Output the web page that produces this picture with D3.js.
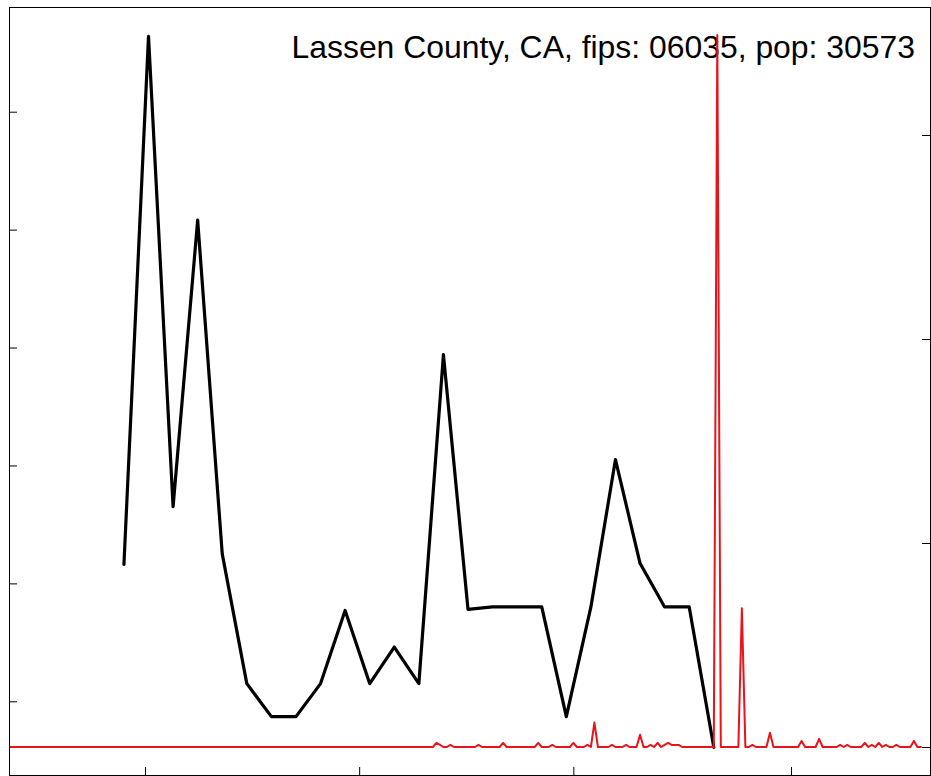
<!DOCTYPE html>
<html>
<head>
<meta charset="utf-8">
<script src="https://cdn.jsdelivr.net/npm/d3@7"></script>
<style>
  html, body { margin: 0; padding: 0; background: #ffffff; }
  svg { display: block; }
</style>
</head>
<body>
<svg id="chart" width="931" height="776"></svg>
<script>
// ---------------- DATA ----------------
const titleText = "Lassen County, CA, fips: 06035, pop: 30573";

// weekly series (black line)
const weekDates = [
  "2020-02-24","2020-03-02","2020-03-09","2020-03-16","2020-03-23",
  "2020-03-30","2020-04-06","2020-04-13","2020-04-20","2020-04-27",
  "2020-05-04","2020-05-11","2020-05-18","2020-05-25","2020-06-01",
  "2020-06-08","2020-06-15","2020-06-22","2020-06-29","2020-07-06",
  "2020-07-13","2020-07-20","2020-07-27","2020-08-03","2020-08-10"
];
const weekValues = [
  21.6, 66.4, 26.5, 50.8, 22.5,
  11.5, 8.7, 8.7, 11.5, 17.7,
  11.5, 14.6, 11.5, 39.4, 17.8,
  18.0, 18.0, 18.0, 8.7, 18.0,
  30.5, 21.7, 18.0, 18.0, 6.1
];

// daily series (red line), starting 2020-01-22
const dailyStart = "2020-01-22";
const dailyValues = [
  0,0,0,0,0,0,0,0,0,0,
  0,0,0,0,0,0,0,0,0,0,
  0,0,0,0,0,0,0,0,0,0,
  0,0,0,0,0,0,0,0,0,0,
  0,0,0,0,0,0,0,0,0,0,
  0,0,0,0,0,0,0,0,0,0,
  0,0,0,0,0,0,0,0,0,0,
  0,0,0,0,0,0,0,0,0,0,
  0,0,0,0,0,0,0,0,0,0,
  0,0,0,0,0,0,0,0,0,0,
  0,0,0,0,0,0,0,0,0,0,
  0,0,0,0,0,0,0,0,0,0,
  0,0,2,1,0,0,1,0,0,0,
  0,0,0,0,1,0,0,0,0,0,
  0,2,0,0,0,0,0,0,0,0,
  0,2,0,0,0,1,0,0,0,0,
  0,2,0,0,0,1,0,12,0,0,
  0,0,1,0,0,0,1,0,0,0,
  6,0,0,1,0,2,0,1,2,1,
  1,1,0,0,0,0,0,0,0,0,
  0,0,349,0,0,0,0,0,0,68,
  0,0,1,0,0,0,0,7,0,0,
  0,0,0,0,0,0,3,0,0,0,
  0,4,0,0,0,0,0,1,0,1,
  0,0,0,0,2,0,1,0,2,0,
  1,0,0,1,0,0,0,0,3,0,
  0
];

// axis ticks (labels are not drawn in the reference)
const xTickDates = ["2020-03-01","2020-05-01","2020-07-01","2020-09-01"];
const leftTicks = [10, 20, 30, 40, 50, 60];
const rightTicks = [0, 100, 200, 300];

// ---------------- CHART ----------------
const svg = d3.select("#chart");
const box = { x0: 9.5, y0: 7.5, x1: 930.5, y1: 775.5 };

const parse = d3.utcParse("%Y-%m-%d");
const startDate = parse(dailyStart);
const dailyData = dailyValues.map((v, i) => ({ date: d3.utcDay.offset(startDate, i), value: v }));
const weekData = weekDates.map((d, i) => ({ date: parse(d), value: weekValues[i] }));

const lastDaily = dailyData[dailyData.length - 1].date;
const x = d3.scaleUtc().domain([startDate, lastDaily]).range([8.07, 8.07 + 260 * 3.511]);
const yLeft = d3.scaleLinear().domain([10, 60]).range([701.3, 111.7]);
const yRight = d3.scaleLinear().domain([0, 300]).range([747, 135]);

svg.append("defs").append("clipPath").attr("id", "plotclip")
  .append("rect").attr("x", box.x0).attr("y", box.y0)
  .attr("width", box.x1 - box.x0).attr("height", box.y1 - box.y0);

// title text
svg.append("text")
  .attr("x", 915).attr("y", 58)
  .attr("text-anchor", "end")
  .attr("font-family", "'Liberation Sans', Arial, Helvetica, sans-serif")
  .attr("font-size", "31.9px")
  .attr("fill", "#000")
  .text(titleText);

const plot = svg.append("g").attr("clip-path", "url(#plotclip)");

// black weekly line
plot.append("path")
  .datum(weekData)
  .attr("fill", "none")
  .attr("stroke", "#000")
  .attr("stroke-width", 3.2)
  .attr("stroke-linejoin", "round")
  .attr("stroke-linecap", "round")
  .attr("d", d3.line().x(d => x(d.date)).y(d => yLeft(d.value)));

// red daily line
plot.append("path")
  .datum(dailyData)
  .attr("fill", "none")
  .attr("stroke", "#e8141a")
  .attr("stroke-width", 2)
  .attr("stroke-linejoin", "round")
  .attr("stroke-linecap", "round")
  .attr("d", d3.line().x(d => x(d.date)).y(d => yRight(d.value)));

// axes (inward ticks, no labels)
function styleAxis(g) {
  g.select(".domain").remove();
  g.selectAll(".tick text").remove();
  g.selectAll(".tick line").attr("stroke", "#000").attr("stroke-width", 1);
}
svg.append("g").attr("transform", `translate(${box.x0 - 0.5},0)`)
  .call(d3.axisLeft(yLeft).tickValues(leftTicks).tickSize(-8).tickFormat(""))
  .call(styleAxis);
svg.append("g").attr("transform", `translate(${box.x1 - 0.5},0)`)
  .call(d3.axisRight(yRight).tickValues(rightTicks).tickSize(-8).tickFormat(""))
  .call(styleAxis);
svg.append("g").attr("transform", `translate(0,${box.y1 - 0.5})`)
  .call(d3.axisBottom(x).tickValues(xTickDates.map(parse)).tickSize(-8).tickFormat(""))
  .call(styleAxis);

// box
svg.append("rect")
  .attr("x", box.x0).attr("y", box.y0)
  .attr("width", box.x1 - box.x0).attr("height", box.y1 - box.y0)
  .attr("fill", "none").attr("stroke", "#000").attr("stroke-width", 1);
</script>
</body>
</html>
